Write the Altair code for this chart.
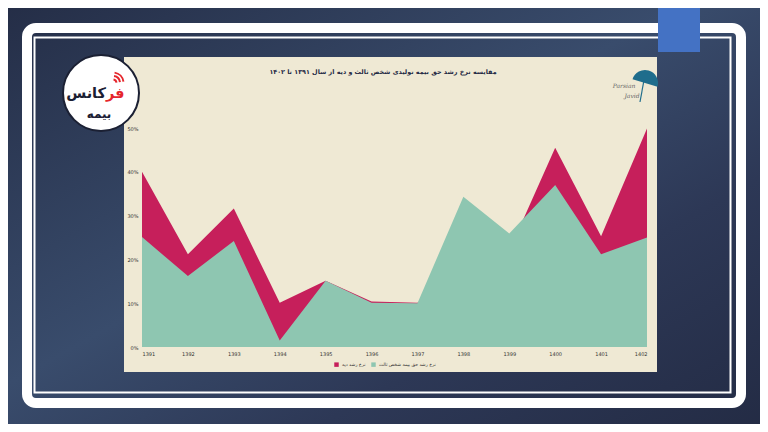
import altair as alt
import pandas as pd

# ---------------- data ----------------
years = list(range(1391, 1403))
third_party = [25.1, 16.2, 24.2, 1.5, 15.1, 10.1, 10.0, 34.3, 25.9, 37.0, 21.2, 25.0]
diyeh = [40.0, 21.2, 31.6, 10.1, 15.1, 10.4, 10.1, 17.0, 22.0, 45.5, 25.3, 49.9]
series_names = ["نرخ رشد دیه", "نرخ رشد حق بیمه شخص ثالث"]
series_colors = ["#c61f5b", "#8ec6b1"]
y_ticks = [0, 10, 20, 30, 40, 50]
title_text = "مقایسه نرخ رشد حق بیمه تولیدی شخص ثالث و دیه از سال ۱۳۹۱ تا ۱۴۰۲"
logo_red = "فر"
logo_dark = "کانس"
logo_sub = "بیمه"

# ---------------- layout helpers ----------------
OX, OY = 142, 128          # page position of plot origin
W, H = 505, 219            # plot area


def px(x):
    return x - OX


def py(y):
    return y - OY


one = pd.DataFrame({"k": [0]})


def rect(x1, y1, x2, y2, **kw):
    return alt.Chart(one).mark_rect(**kw).encode(
        x=alt.value(px(x1)), x2=alt.value(px(x2)),
        y=alt.value(py(y1)), y2=alt.value(py(y2)))


def label(x, y, text, **kw):
    return alt.Chart(one).mark_text(text=text, **kw).encode(
        x=alt.value(px(x)), y=alt.value(py(y)))


# ---------------- decorations ----------------
bg = rect(0, 0, 768, 432, color=alt.Gradient(
    gradient="linear", x1=0, y1=0, x2=1, y2=1,
    stops=[alt.GradientStop(color="#242d46", offset=0),
           alt.GradientStop(color="#394c6c", offset=0.45),
           alt.GradientStop(color="#2d3856", offset=0.7),
           alt.GradientStop(color="#232b44", offset=1)]))

frame_outer = rect(27, 28, 741, 403, fill="transparent", stroke="white",
                   strokeWidth=10, cornerRadius=9)
frame_inner = rect(34.5, 37.5, 730.5, 392.5, fill="transparent", stroke="white",
                   strokeWidth=2)
panel = rect(124, 57, 657, 372, color="#efe9d4")

title = label(383, 72, title_text, font="DejaVu Sans", fontSize=6.4,
              fontWeight="bold", color="#1f2a44", align="center", baseline="middle")

umb_canopy = alt.Chart(one).mark_arc(radius=13, theta=5.0, theta2=8.14,
                                     color="#1f6d8c").encode(
    x=alt.value(px(645)), y=alt.value(py(83)))
umb_handle = alt.Chart(one).mark_rule(color="#1f6d8c", strokeWidth=1.2).encode(
    x=alt.value(px(644)), y=alt.value(py(80)), x2=alt.value(px(640)), y2=alt.value(py(102)))
umb_t1 = label(624, 86, "Parsian", font="DejaVu Serif", fontStyle="italic",
               fontSize=6, color="#666666", align="center", baseline="middle")
umb_t2 = label(632, 96, "Javid", font="DejaVu Serif", fontStyle="italic",
               fontSize=6, color="#666666", align="center", baseline="middle")

# ---------------- chart ----------------
df_d = pd.DataFrame({"year": years, "value": diyeh, "series": series_names[0]})
df_t = pd.DataFrame({"year": years, "value": third_party, "series": series_names[1]})

x_enc = alt.X("year:Q", scale=alt.Scale(domain=[1391, 1402], nice=False, zero=False),
              axis=alt.Axis(values=years, format="d", title=None, domain=False,
                            ticks=False, grid=False, labelFontSize=5,
                            labelFont="DejaVu Sans", labelColor="#333333",
                            labelPadding=4, zindex=1))
y_enc = alt.Y("value:Q", stack=None, scale=alt.Scale(domain=[0, 50], nice=False),
              axis=alt.Axis(values=y_ticks, labelExpr="datum.value + '%'", title=None,
                            domain=False, ticks=False, grid=False, labelFontSize=5,
                            labelFont="DejaVu Sans", labelColor="#333333",
                            labelPadding=4, zindex=1))
c_enc = alt.Color("series:N", scale=alt.Scale(domain=series_names, range=series_colors),
                  legend=alt.Legend(orient="none", legendX=px(334), legendY=py(362),
                                    direction="horizontal", title=None,
                                    symbolType="square", symbolSize=20,
                                    symbolStrokeWidth=0, symbolOpacity=1,
                                    labelFontSize=4.5, labelFont="DejaVu Sans",
                                    labelColor="#333333", columnPadding=5,
                                    labelOffset=3, labelLimit=0, zindex=1))

area_d = alt.Chart(df_d).mark_area(opacity=1).encode(x=x_enc, y=y_enc, color=c_enc)
area_t = alt.Chart(df_t).mark_area(opacity=1).encode(x=x_enc, y=y_enc, color=c_enc)

# ---------------- logo ----------------
logo_circle = alt.Chart(one).mark_point(shape="circle", size=5776, filled=True,
                                         fill="white", stroke="#1b2033",
                                         strokeWidth=2, opacity=1).encode(
    x=alt.value(px(101)), y=alt.value(py(93)))
wifi = [alt.Chart(one).mark_arc(radius=r1, radius2=r2, theta=0.15, theta2=1.45,
                                color="#e5262c").encode(
    x=alt.value(px(113)), y=alt.value(py(83))) for r1, r2 in [(2.5, 4.5), (6, 8), (9.5, 11.5)]]
logo_t_dark = label(106, 98, logo_dark, font="DejaVu Sans", fontSize=14.5,
                    fontWeight="bold", color="#1b2033", align="right",
                    baseline="alphabetic")
logo_t_red = label(106, 98, logo_red, font="DejaVu Sans", fontSize=14.5,
                   fontWeight="bold", color="#e5262c", align="left",
                   baseline="alphabetic")
logo_t_sub = label(99, 114, logo_sub, font="DejaVu Sans", fontSize=12,
                   fontWeight="bold", color="#1b2033", align="center",
                   baseline="middle")

blue_bar = rect(658, 0, 700, 52, color="#4472c4")

chart = alt.layer(
    bg, frame_outer, frame_inner, panel, title,
    umb_canopy, umb_handle, umb_t1, umb_t2,
    area_d, area_t,
    logo_circle, *wifi, logo_t_dark, logo_t_red, logo_t_sub,
    blue_bar,
).properties(
    width=W, height=H,
    padding={"left": OX - 8, "top": OY - 8, "right": 760 - (OX + W), "bottom": 424 - (OY + H)},
    autosize=alt.AutoSizeParams(type="none"),
).configure(background="#2a3450").configure_view(strokeWidth=0)

chart.save("out.html", embed_options={"renderer": "svg", "actions": False})
